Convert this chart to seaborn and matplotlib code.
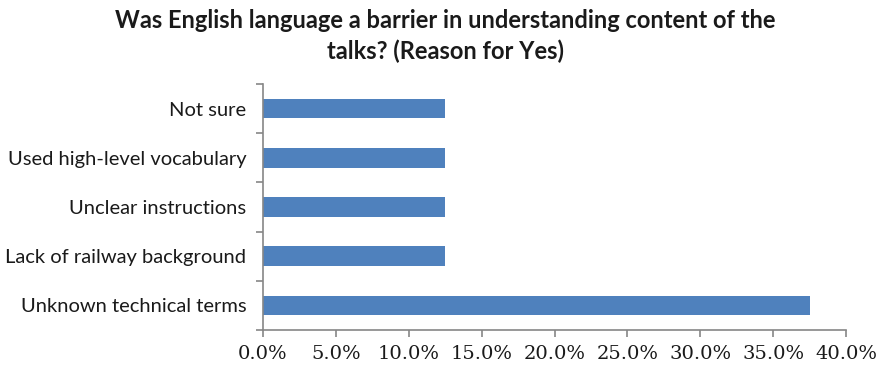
import matplotlib
matplotlib.use("Agg")
import matplotlib.pyplot as plt
import seaborn as sns
import pandas as pd
import numpy as np

categories = [
    "Not sure",
    "Used high-level vocabulary",
    "Unclear instructions",
    "Lack of railway background",
    "Unknown technical terms",
]
shares = [12.5, 12.5, 12.5, 12.5, 37.5]
x_ticks = [0, 5, 10, 15, 20, 25, 30, 35, 40]

df = pd.DataFrame({"reason": categories, "share": shares})

sns.set_style("white")
plt.rcParams["font.family"] = ["Lato", "DejaVu Sans"]

fig = plt.figure(figsize=(8.82, 3.66), dpi=100)
ax = fig.add_axes([263 / 882, 1 - 330 / 366, (846 - 263) / 882, (330 - 84) / 366])

sns.barplot(data=df, y="reason", x="share", orient="h", color="#4F81BD",
            saturation=1, width=0.4, edgecolor="none", ax=ax)

axis_grey = "#868686"
ax.set_xlim(0, 40)
ax.set_xticks(x_ticks)
ax.set_xticklabels([f"{v:.1f}%" for v in x_ticks], family="DejaVu Serif",
                   fontsize=14, color="#1a1a1a")
ax.set_ylim(len(categories) - 0.5, -0.5)
ax.set_yticks(range(len(categories)))
ax.set_yticklabels(categories, fontsize=14.5, color="#1a1a1a")
ax.tick_params(axis="y", which="major", left=False, length=0, pad=12)
ax.set_yticks(np.arange(-0.5, len(categories), 1), minor=True)
ax.tick_params(axis="y", which="minor", left=True, length=5, color=axis_grey,
               width=1.2, direction="out")
ax.tick_params(axis="x", bottom=True, length=5, color=axis_grey, width=1.2,
               direction="out", pad=6)
ax.set_xlabel("")
ax.set_ylabel("")

for side in ["top", "right"]:
    ax.spines[side].set_visible(False)
for side in ["left", "bottom"]:
    ax.spines[side].set_color(axis_grey)
    ax.spines[side].set_linewidth(1.2)

fig.text(0.505, 1 - 21 / 366,
         "Was English language a barrier in understanding content of the",
         ha="center", va="center", fontsize=17, fontweight="bold", color="#1a1a1a")
fig.text(0.505, 1 - 51 / 366, "talks? (Reason for Yes)",
         ha="center", va="center", fontsize=17, fontweight="bold", color="#1a1a1a")

fig.savefig("out.png", dpi=100)
